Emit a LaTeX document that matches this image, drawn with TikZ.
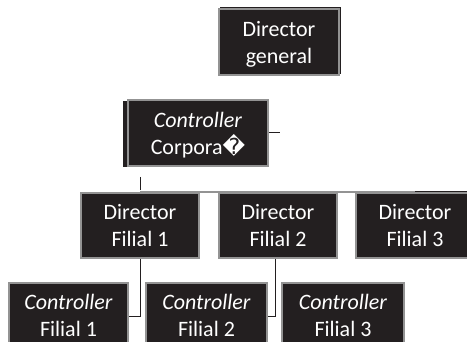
\documentclass[tikz,border=0pt]{standalone}
\usepackage{fontspec}
\setmainfont{Carlito}
\newfontfamily\symfont{DejaVu Sans}
\usetikzlibrary{backgrounds}
\definecolor{boxfill}{HTML}{231F20}
\definecolor{boxedge}{HTML}{939393}
% fixed line heights so every two-line label sits at the same place
\newcommand\firstrow{\rule{0pt}{21.5pt}}
\newcommand\lastrow{\rule[-6pt]{0pt}{6pt}}

\begin{document}
\begin{tikzpicture}[x=1pt,y=-1pt,
  orgbox/.style={draw=boxedge, line width=1.6pt, fill=boxfill, text=white,
    align=center, inner sep=0pt, minimum height=65pt,
    font=\fontsize{22}{27}\selectfont},
  link/.style={draw=boxfill, line width=1pt},
  busline/.style={draw=boxedge, line width=1.6pt},
  shade/.style={fill=boxfill}]
\useasboundingbox (0,0) rectangle (467,342);

% top level
\node[orgbox, minimum width=120pt, minimum height=66pt] (dg) at (279,42)
  {\firstrow Director\\general\lastrow};
\node[orgbox, minimum width=140pt, minimum height=66pt] (cc) at (198,133)
  {\firstrow\textit{Controller}\\Corpora{\symfont �}\lastrow};

% subsidiary directors
\node[orgbox, minimum width=118pt] (df1) at (140,225.5) {\firstrow Director\\Filial 1\lastrow};
\node[orgbox, minimum width=118pt] (df2) at (278,225.5) {\firstrow Director\\Filial 2\lastrow};
\node[orgbox, minimum width=118pt] (df3) at (415,225.5) {\firstrow Director\\Filial 3\lastrow};

% subsidiary controllers
\node[orgbox, minimum width=119pt] (cf1) at (68.5,315.5) {\firstrow\textit{Controller}\\Filial 1\lastrow};
\node[orgbox, minimum width=121pt] (cf2) at (206.5,315.5) {\firstrow\textit{Controller}\\Filial 2\lastrow};
\node[orgbox, minimum width=122pt] (cf3) at (343,315.5) {\firstrow\textit{Controller}\\Filial 3\lastrow};

\coordinate (ccend) at (280,133);
\coordinate (stub) at (140,177);

\begin{scope}[on background layer]
  % offset shadows
  \fill[shade] ([xshift=-4pt,yshift=-2pt]cc.north west) rectangle (cc.south);
  \fill[shade] ([xshift=1.5pt,yshift=1.5pt]dg.north west) rectangle ([xshift=1.5pt,yshift=1.5pt]dg.south east);
  \fill[shade] ([yshift=1.5pt]df2.north west) rectangle (df2.south east);
  \fill[shade] ([yshift=1.5pt]df3.north west) rectangle (df3.south east);
  % connectors
  \draw[busline] (df1.north) -- (df3.north);
  \draw[link] (stub) -- ([yshift=2pt]df1.north);
  \draw[link] (cc.east) -- (ccend);
  \draw[link] (df1.south) |- ([yshift=-1.5pt]cf1.east);
  \draw[link] ([xshift=-3pt]df2.south) |- ([yshift=-1.5pt]cf2.east);
\end{scope}
\end{tikzpicture}
\end{document}
